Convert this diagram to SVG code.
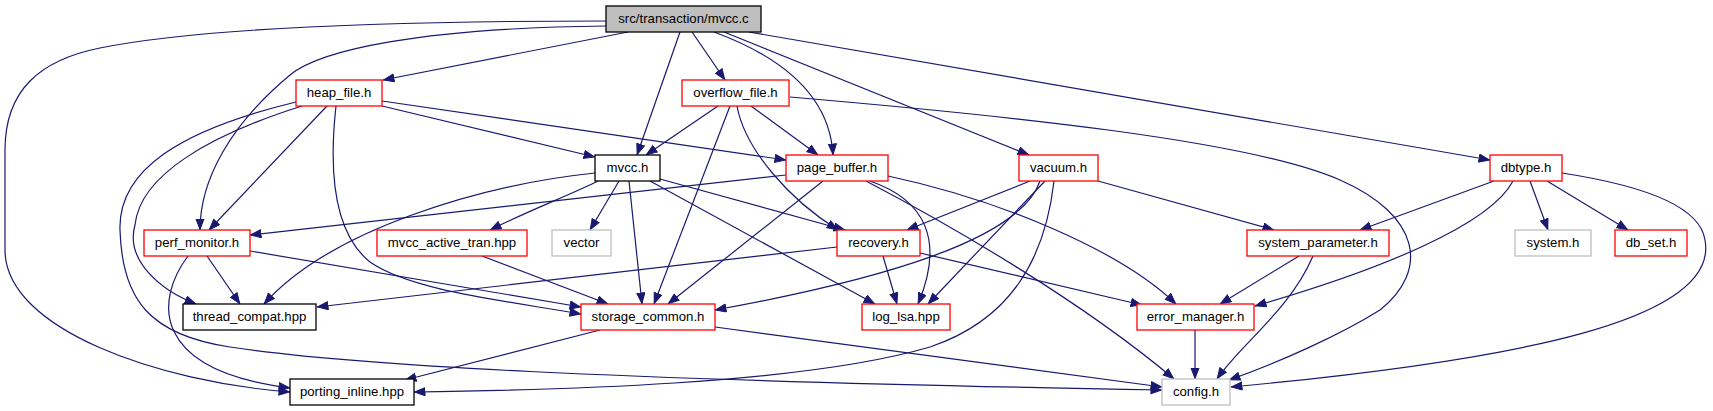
<svg xmlns="http://www.w3.org/2000/svg" width="1713" height="411" viewBox="0 0 1713 411">
<style>
.nd rect{fill:#fff;stroke-width:1.3}
.nd text{font-family:"Liberation Sans",Arial,sans-serif;font-size:13.2px;fill:#000;text-anchor:middle}
.rd rect{stroke:#ff0000}
.bk rect{stroke:#000}
.gy rect{stroke:#bfbfbf}
.root rect{fill:#bfbfbf;stroke:#000}
#edges path{fill:none;stroke:#191970;stroke-width:1.2;marker-end:url(#ah)}
</style>
<defs>
<marker id="ah" markerUnits="userSpaceOnUse" markerWidth="14" markerHeight="11" refX="11.5" refY="4.5" orient="auto">
<path d="M0.5,0.5 L11,4.5 L0.5,8.5 z" fill="#191970" stroke="#191970" stroke-width="1"/>
</marker>
</defs>
<rect width="1713" height="411" fill="#fff"/>
<g id="edges">
<path d="M628,32 L383,80"/>
<path d="M606,21 C400,21 200,28 100,48 C40,60 5,90 5,150 L5,250 C5,330 160,382 290,392"/>
<path d="M606,26 C420,28 320,50 290,75 C230,125 200,180 200,230"/>
<path d="M680,32 L637,155"/>
<path d="M692,32 L725,80"/>
<path d="M714,32 C790,60 830,100 833,155"/>
<path d="M724,32 L1029,155"/>
<path d="M749,32 L1490,160"/>
<path d="M382,106 L595,157"/>
<path d="M382,101 L786,160"/>
<path d="M327,106 L209,230"/>
<path d="M302,106 C210,135 140,175 135,225 C125,260 160,290 196,304"/>
<path d="M296,102 C180,130 118,170 120,230 C122,300 150,335 230,347 C350,365 600,380 1162,390"/>
<path d="M336,106 C330,160 330,230 370,262 C410,290 500,300 581,314"/>
<path d="M718,106 L646,155"/>
<path d="M730,106 L654,304"/>
<path d="M737,106 C745,150 790,200 838,230"/>
<path d="M751,106 L818,155"/>
<path d="M790,97 C1000,115 1250,140 1340,180 C1420,215 1430,270 1380,310 C1340,335 1280,362 1229,380"/>
<path d="M595,173 C480,185 330,230 264,304"/>
<path d="M598,181 C570,195 530,210 490,230"/>
<path d="M619,181 L590,230"/>
<path d="M629,181 L642,304"/>
<path d="M660,179 L845,230"/>
<path d="M650,181 L875,304"/>
<path d="M786,175 L250,235"/>
<path d="M823,181 L668,304"/>
<path d="M870,181 C925,200 945,240 918,304"/>
<path d="M866,181 C950,225 1080,300 1174,379"/>
<path d="M888,176 C1000,200 1120,250 1176,304"/>
<path d="M1030,181 L907,230"/>
<path d="M1040,181 C1020,240 880,280 715,310"/>
<path d="M1045,181 L928,304"/>
<path d="M1054,181 C1045,260 1010,320 930,347 C800,385 550,390 414,392"/>
<path d="M1098,181 L1274,230"/>
<path d="M1494,181 L1360,230"/>
<path d="M1513,181 C1490,225 1380,270 1255,306"/>
<path d="M1530,181 L1548,230"/>
<path d="M1547,181 L1628,230"/>
<path d="M1562,173 C1640,185 1700,205 1705,240 C1720,320 1520,360 1231,387"/>
<path d="M207,256 L240,304"/>
<path d="M188,256 C155,300 150,370 290,388"/>
<path d="M250,251 L581,307"/>
<path d="M482,256 L608,304"/>
<path d="M837,247 L317,307"/>
<path d="M883,256 L897,304"/>
<path d="M920,253 L1142,305"/>
<path d="M600,330 L405,380"/>
<path d="M715,327 L1162,387"/>
<path d="M1299,256 L1220,304"/>
<path d="M1313,256 C1290,310 1240,345 1217,379"/>
<path d="M1195,330 L1195,379"/>
</g>
<g id="n_mvcc_c" class="nd root"><rect x="606" y="6" width="155" height="26"/><text x="683.5" y="22.5">src/transaction/mvcc.c</text></g>
<g id="n_heap_file" class="nd rd"><rect x="296" y="80" width="86" height="26"/><text x="339" y="96.5">heap_file.h</text></g>
<g id="n_overflow_file" class="nd rd"><rect x="682" y="80" width="107" height="26"/><text x="735.5" y="96.5">overflow_file.h</text></g>
<g id="n_mvcc_h" class="nd bk"><rect x="595" y="155" width="65" height="26"/><text x="627.5" y="171.5">mvcc.h</text></g>
<g id="n_page_buffer" class="nd rd"><rect x="786" y="155" width="102" height="26"/><text x="837" y="171.5">page_buffer.h</text></g>
<g id="n_vacuum" class="nd rd"><rect x="1019" y="155" width="79" height="26"/><text x="1058.5" y="171.5">vacuum.h</text></g>
<g id="n_dbtype" class="nd rd"><rect x="1490" y="155" width="72" height="26"/><text x="1526" y="171.5">dbtype.h</text></g>
<g id="n_perf_monitor" class="nd rd"><rect x="144" y="230" width="106" height="26"/><text x="197" y="246.5">perf_monitor.h</text></g>
<g id="n_mvcc_active_tran" class="nd rd"><rect x="377" y="230" width="150" height="26"/><text x="452" y="246.5">mvcc_active_tran.hpp</text></g>
<g id="n_vector" class="nd gy"><rect x="552" y="230" width="59" height="26"/><text x="581.5" y="246.5">vector</text></g>
<g id="n_recovery" class="nd rd"><rect x="837" y="230" width="83" height="26"/><text x="878.5" y="246.5">recovery.h</text></g>
<g id="n_system_parameter" class="nd rd"><rect x="1247" y="230" width="142" height="26"/><text x="1318" y="246.5">system_parameter.h</text></g>
<g id="n_system" class="nd gy"><rect x="1515" y="230" width="76" height="26"/><text x="1553" y="246.5">system.h</text></g>
<g id="n_db_set" class="nd rd"><rect x="1615" y="230" width="72" height="26"/><text x="1651" y="246.5">db_set.h</text></g>
<g id="n_thread_compat" class="nd bk"><rect x="183" y="304" width="133" height="26"/><text x="249.5" y="320.5">thread_compat.hpp</text></g>
<g id="n_storage_common" class="nd rd"><rect x="581" y="304" width="134" height="26"/><text x="648" y="320.5">storage_common.h</text></g>
<g id="n_log_lsa" class="nd rd"><rect x="862" y="304" width="88" height="26"/><text x="906" y="320.5">log_lsa.hpp</text></g>
<g id="n_error_manager" class="nd rd"><rect x="1137" y="304" width="117" height="26"/><text x="1195.5" y="320.5">error_manager.h</text></g>
<g id="n_porting_inline" class="nd bk"><rect x="290" y="379" width="124" height="26"/><text x="352" y="395.5">porting_inline.hpp</text></g>
<g id="n_config" class="nd gy"><rect x="1162" y="379" width="68" height="26"/><text x="1196" y="395.5">config.h</text></g>
</svg>
